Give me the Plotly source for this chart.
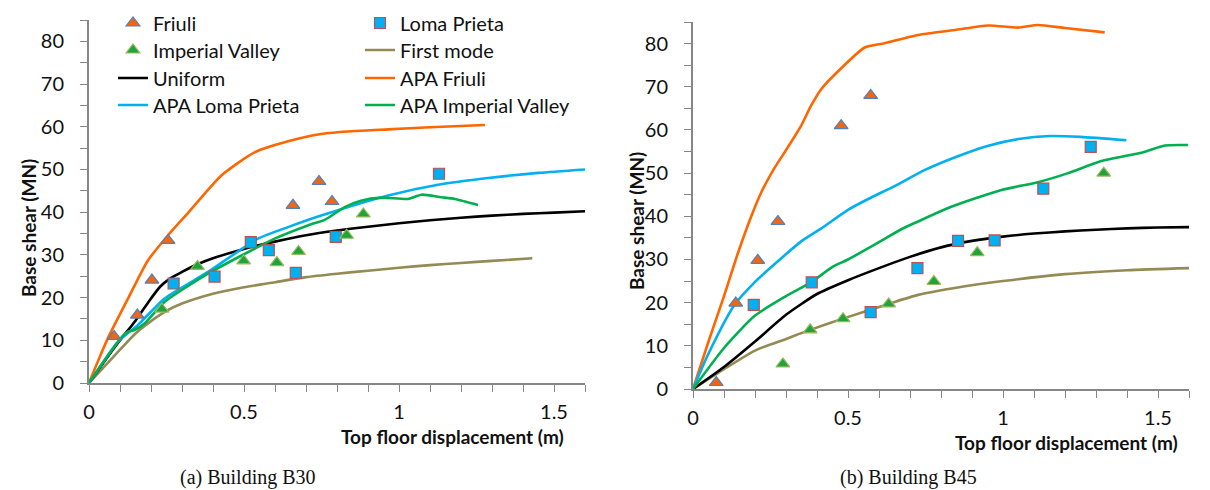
import plotly.graph_objects as go

# ---------------- Building B30 (left) ----------------
friuli_b30_x = [0.081, 0.156, 0.203, 0.255, 0.658, 0.742, 0.784]
friuli_b30_y = [10.9, 15.9, 24.1, 33.4, 41.6, 47.2, 42.5]
loma_b30_x = [0.273, 0.405, 0.522, 0.580, 0.667, 0.796, 1.129]
loma_b30_y = [23.3, 24.9, 33.0, 31.1, 25.8, 34.2, 49.0]
imp_b30_x = [0.235, 0.350, 0.499, 0.606, 0.676, 0.831, 0.885]
imp_b30_y = [17.3, 27.3, 28.6, 28.2, 30.8, 34.6, 39.6]

uniform_b30_x = [0, 0.05, 0.10, 0.15, 0.20, 0.23, 0.26, 0.30, 0.35, 0.40, 0.50, 0.60, 0.70,
                 0.80, 0.90, 1.00, 1.10, 1.20, 1.30, 1.40, 1.50, 1.60]
uniform_b30_y = [0, 5.1, 10.0, 14.6, 19.8, 22.6, 24.4, 26.0, 27.8, 29.2, 31.4, 33.1, 34.6,
                 35.7, 36.6, 37.4, 38.1, 38.7, 39.2, 39.6, 39.9, 40.2]
first_b30_x = [0, 0.05, 0.10, 0.15, 0.20, 0.25, 0.30, 0.40, 0.50, 0.60, 0.70, 0.80, 0.90,
               1.00, 1.10, 1.20, 1.30, 1.43]
first_b30_y = [0, 3.9, 7.8, 11.6, 14.5, 16.9, 18.6, 20.9, 22.4, 23.6, 24.8, 25.6, 26.3,
               27.0, 27.6, 28.1, 28.6, 29.2]
apa_friuli_b30_x = [0, 0.03, 0.061, 0.126, 0.19, 0.255, 0.319, 0.427, 0.534, 0.642, 0.749,
                    0.857, 0.965, 1.10, 1.277]
apa_friuli_b30_y = [0, 5.3, 10.5, 19.8, 28.7, 34.6, 39.8, 48.6, 54.0, 56.6, 58.3,
                    59.0, 59.4, 59.9, 60.4]
apa_loma_b30_x = [0, 0.094, 0.158, 0.244, 0.384, 0.545, 0.642, 0.749, 0.965, 1.126, 1.287,
                  1.45, 1.60]
apa_loma_b30_y = [0, 9.7, 13.6, 19.8, 26.0, 33.8, 36.5, 39.2, 43.9, 46.4, 48.0, 49.2, 50.0]
apa_imp_b30_x = [0, 0.06, 0.10, 0.126, 0.147, 0.18, 0.244, 0.384, 0.599, 0.706, 0.76, 0.785,
                 0.825, 0.877, 0.943, 1.03, 1.072, 1.136, 1.18, 1.255]
apa_imp_b30_y = [0, 6.3, 10.3, 12.0, 12.4, 14.0, 19.0, 25.6, 33.8, 36.9, 38.2, 39.3,
                 41.2, 42.7, 43.4, 43.1, 44.1, 43.5, 43.1, 41.7]

# ---------------- Building B45 (right) ----------------
friuli_b45_x = [0.075, 0.138, 0.209, 0.274, 0.478, 0.573]
friuli_b45_y = [1.5, 19.9, 29.8, 38.8, 61.0, 68.0]
loma_b45_x = [0.196, 0.383, 0.573, 0.724, 0.855, 0.973, 1.130, 1.283]
loma_b45_y = [19.5, 24.7, 17.8, 28.0, 34.3, 34.4, 46.4, 56.1]
imp_b45_x = [0.290, 0.378, 0.484, 0.631, 0.777, 0.917, 1.325]
imp_b45_y = [5.8, 13.7, 16.3, 19.7, 24.9, 31.6, 50.0]

uniform_b45_x = [0, 0.1, 0.2, 0.3, 0.4, 0.5, 0.6, 0.7, 0.8, 0.9, 1.0, 1.1, 1.2, 1.3, 1.4, 1.5, 1.6]
uniform_b45_y = [0, 5.1, 11.0, 17.2, 22.0, 25.2, 28.0, 30.6, 32.8, 34.3, 35.3, 36.0, 36.5,
                 36.9, 37.2, 37.4, 37.5]
first_b45_x = [0, 0.1, 0.2, 0.3, 0.378, 0.484, 0.631, 0.726, 0.844, 1.0, 1.2, 1.4, 1.6]
first_b45_y = [0, 4.6, 8.9, 11.6, 13.7, 16.3, 19.7, 21.8, 23.4, 25.0, 26.6, 27.5, 28.0]
apa_friuli_b45_x = [0, 0.05, 0.1, 0.145, 0.188, 0.22, 0.263, 0.306, 0.349, 0.38, 0.414,
                    0.478, 0.554, 0.618, 0.726, 0.85, 0.952, 1.048, 1.113, 1.2, 1.328]
apa_friuli_b45_y = [0, 11.0, 21.5, 31.5, 40.0, 45.5, 51.2, 56.0, 61.0, 65.5, 69.5,
                    74.3, 79.1, 80.1, 82.0, 83.2, 84.2, 83.7, 84.3, 83.6, 82.6]
apa_loma_b45_x = [0, 0.048, 0.134, 0.21, 0.296, 0.349, 0.414, 0.5, 0.565, 0.65, 0.75, 0.85,
                  0.95, 1.05, 1.15, 1.25, 1.398]
apa_loma_b45_y = [0, 7.9, 19.5, 25.5, 31.0, 34.2, 37.2, 41.5, 44.0, 47.0, 50.8, 53.8,
                  56.3, 57.9, 58.6, 58.4, 57.6]
apa_imp_b45_x = [0, 0.1, 0.2, 0.3, 0.383, 0.45, 0.5, 0.6, 0.672, 0.726, 0.833, 0.995, 1.113,
                 1.21, 1.317, 1.45, 1.522, 1.597]
apa_imp_b45_y = [0, 9.5, 17.0, 21.5, 24.8, 28.3, 30.0, 34.0, 37.0, 38.8, 42.2, 46.1, 47.9,
                 50.0, 52.8, 54.8, 56.4, 56.5]

x_tick_vals = [0, 0.5, 1, 1.5]
x_tick_text = ["0", "0.5", "1", "1.5"]
y_tick_vals = [0, 10, 20, 30, 40, 50, 60, 70, 80]

# ---------------- styles ----------------
FONT = "Lato"
C_ORANGE = "#FF6600"
C_BLUE = "#00B0F0"
C_GREEN = "#00B050"
C_OLIVE = "#948A54"
tri_orange = dict(symbol="triangle-up", size=12, color="#F5640F", line=dict(color="#4F81BD", width=1.2))
tri_green = dict(symbol="triangle-up", size=12, color="#1FA33C", line=dict(color="#9BBB59", width=1.2))
sq_blue = dict(symbol="square", size=11, color="#00B0F0", line=dict(color="#C0504D", width=1.2))
LW = 2.6

# legend slot of each series: (legend id, column, row centre px)
legend_slots = {
    "Friuli": ("legend", 0, 15),
    "Loma Prieta": ("legend2", 1, 15),
    "Imperial Valley": ("legend3", 0, 42),
    "First mode": ("legend4", 1, 42),
    "Uniform": ("legend5", 0, 70),
    "APA Friuli": ("legend6", 1, 70),
    "APA Loma Prieta": ("legend7", 0, 97),
    "APA Imperial Valley": ("legend8", 1, 97),
}
COL_LEFT = [105, 352]

fig = go.Figure()


def add_set(sfx, showleg, data):
    (fx, fy, lx, ly, ix, iy, ux, uy, mx, my, afx, afy, alx, aly, aix, aiy) = data
    xa, ya = ("x", "y") if sfx == "" else ("x2", "y2")
    sp = dict(shape="spline", smoothing=0.6)

    def add(name, **kw):
        fig.add_trace(go.Scatter(name=name, xaxis=xa, yaxis=ya, showlegend=showleg,
                                 legend=legend_slots[name][0], **kw))

    # curves first, markers drawn on top
    add("First mode", x=mx, y=my, mode="lines", line=dict(color=C_OLIVE, width=LW, **sp))
    add("Uniform", x=ux, y=uy, mode="lines", line=dict(color="black", width=LW, **sp))
    add("APA Friuli", x=afx, y=afy, mode="lines", line=dict(color=C_ORANGE, width=LW, **sp))
    add("APA Loma Prieta", x=alx, y=aly, mode="lines", line=dict(color=C_BLUE, width=LW, **sp))
    add("APA Imperial Valley", x=aix, y=aiy, mode="lines", line=dict(color=C_GREEN, width=LW, **sp))
    add("Friuli", x=fx, y=fy, mode="markers", marker=tri_orange)
    add("Loma Prieta", x=lx, y=ly, mode="markers", marker=sq_blue)
    add("Imperial Valley", x=ix, y=iy, mode="markers", marker=tri_green)


add_set("", True, (friuli_b30_x, friuli_b30_y, loma_b30_x, loma_b30_y, imp_b30_x, imp_b30_y,
                   uniform_b30_x, uniform_b30_y, first_b30_x, first_b30_y,
                   apa_friuli_b30_x, apa_friuli_b30_y, apa_loma_b30_x, apa_loma_b30_y,
                   apa_imp_b30_x, apa_imp_b30_y))
add_set("2", False, (friuli_b45_x, friuli_b45_y, loma_b45_x, loma_b45_y, imp_b45_x, imp_b45_y,
                     uniform_b45_x, uniform_b45_y, first_b45_x, first_b45_y,
                     apa_friuli_b45_x, apa_friuli_b45_y, apa_loma_b45_x, apa_loma_b45_y,
                     apa_imp_b45_x, apa_imp_b45_y))

W, H = 1210, 490
AX_GRAY = "#868686"
tickfont = dict(family=FONT, size=20, color="#111111")

xcommon = dict(range=[0, 1.6], tickvals=x_tick_vals, ticktext=x_tick_text, ticks="outside",
               ticklen=7, tickwidth=1.3, tickcolor=AX_GRAY, showline=True, linecolor=AX_GRAY,
               linewidth=2, showgrid=False, zeroline=False, tickfont=tickfont,
               ticklabelstandoff=3, automargin=False,
               minor=dict(dtick=0.1, tick0=0, ticks="outside", ticklen=7, tickwidth=1.3,
                          tickcolor=AX_GRAY, showgrid=False))
ycommon = dict(range=[0, 85], tickvals=y_tick_vals, ticks="outside", ticklen=7, tickwidth=1.3,
               tickcolor=AX_GRAY, showline=True, linecolor=AX_GRAY, linewidth=2,
               showgrid=False, zeroline=False, tickfont=tickfont, ticklabelstandoff=12,
               automargin=False,
               minor=dict(dtick=5, tick0=0, ticks="outside", ticklen=7, tickwidth=1.3,
                          tickcolor=AX_GRAY, showgrid=False))

legfont = dict(family=FONT, size=20, color="#111111")
legends = {}
for name, (lid, col, row) in legend_slots.items():
    legends[lid] = dict(x=COL_LEFT[col] / W, y=1 - row / H, xanchor="left", yanchor="middle",
                        xref="paper", yref="paper", bgcolor="rgba(0,0,0,0)", font=legfont,
                        itemwidth=30, borderwidth=0)

fig.update_layout(
    width=W, height=H,
    margin=dict(l=0, r=0, t=0, b=0, autoexpand=False),
    paper_bgcolor="white", plot_bgcolor="white",
    font=dict(family=FONT, color="#111111"),
    xaxis=dict(domain=[81 / W, 577 / W], anchor="y", **xcommon),
    yaxis=dict(domain=[(H - 375) / H, (H - 12) / H], anchor="x", **ycommon),
    xaxis2=dict(domain=[685 / W, 1181 / W], anchor="y2", **xcommon),
    yaxis2=dict(domain=[(H - 381) / H, (H - 14) / H], anchor="x2", **ycommon),
    showlegend=True,
    **legends,
)

title_font = dict(family=FONT, size=19, color="#111111", weight="bold")
ann = [
    dict(text="Top floor displacement (m)", x=444 / W, y=1 - 428 / H, font=title_font),
    dict(text="Top floor displacement (m)", x=1058 / W, y=1 - 434 / H, font=title_font),
    dict(text="Base shear (MN)", x=20 / W, y=1 - 220 / H, textangle=-90, font=title_font),
    dict(text="Base shear (MN)", x=628 / W, y=1 - 213 / H, textangle=-90, font=title_font),
    dict(text="(a) Building B30", x=240 / W, y=1 - 469 / H,
         font=dict(family="Liberation Serif", size=20, color="#111111")),
    dict(text="(b) Building B45", x=900 / W, y=1 - 469 / H,
         font=dict(family="Liberation Serif", size=20, color="#111111")),
]
for a in ann:
    fig.add_annotation(xref="paper", yref="paper", showarrow=False, xanchor="center",
                       yanchor="middle", **a)

fig.write_html("out.html")
